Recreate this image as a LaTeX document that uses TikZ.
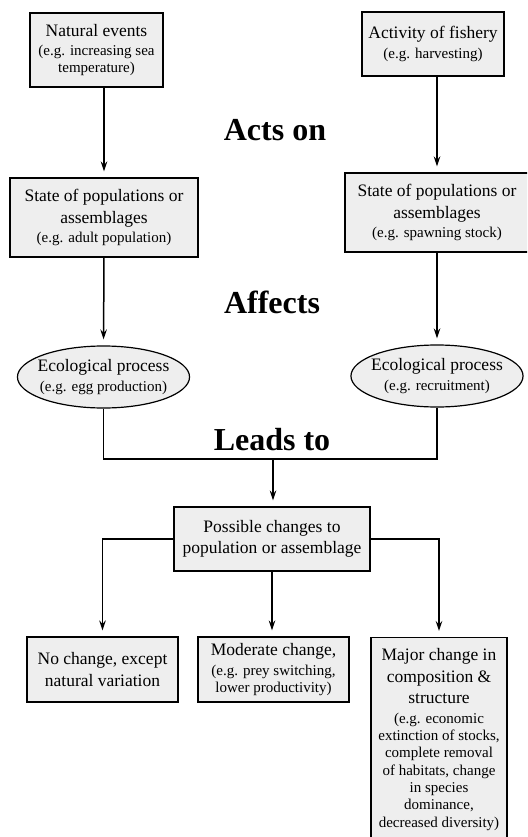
\documentclass[tikz,border=0pt]{standalone}
\usepackage{fontspec}
\setmainfont{Liberation Serif}
\usetikzlibrary{arrows.meta,shapes.geometric}
\newcommand\egf{\fontsize{15}{17.3}\selectfont}
\tikzset{
bx/.style={draw, line width=1.2pt, fill=gray!13, align=center, inner sep=0pt, font=\fontsize{17.5}{21.5}\selectfont},
proc/.style={bx, ellipse, inner xsep=-5pt},
lbl/.style={font=\bfseries\fontsize{32}{36}\selectfont},
ln/.style={line width=1.5pt},
arr/.style={ln, -{Stealth[open,length=10pt,width=6.5pt,inset=3.5pt]}, shorten >=6pt}
}

\begin{document}
\begin{tikzpicture}[x=1pt,y=-1pt]
\useasboundingbox (0,0) rectangle (527,837); \clip (0,0) rectangle (527,837);

\node[bx, minimum width=133, minimum height=74] at (96.5,50) (nat) {Natural events\\[-2pt]\egf (e.g. increasing sea\\[-4.2pt]\egf temperature)};
\node[bx, minimum width=142, minimum height=64] at (433,44) (act) {Activity of fishery\\[-2pt]\egf (e.g. harvesting)};
\node[bx, minimum width=188, minimum height=79] at (104,217.5) (sop1) {State of populations or\\assemblages\\[-2pt]\egf (e.g. adult population)};
\node[bx, minimum width=184, minimum height=79] at (437,212.5) (sop2) {State of populations or\\assemblages\\[-2pt]\egf (e.g. spawning stock)};
\node[proc, minimum height=62] at (103.5,377) (eco1) {Ecological process\\[-2pt]\egf (e.g. egg production)};
\node[proc, minimum height=62] at (437,376) (eco2) {Ecological process\\[-2pt]\egf (e.g. recruitment)};
\node[lbl] at (275,130) (acts) {Acts on}; \node[lbl] at (272,302) (aff) {Affects}; \node[lbl] at (272,440) (lead) {Leads to};
\coordinate (join) at (273,459);
\node[bx, minimum width=196, minimum height=64] at (272,539) (pos) {Possible changes to\\population or assemblage};
\node[bx, minimum width=151, minimum height=65] at (102.5,669.5) (nochg) {No change, except\\natural variation};
\node[bx, minimum width=151, minimum height=65] at (273.5,669.5) (mod) {Moderate change,\\[-2pt]\egf (e.g. prey switching,\\[-4.2pt]\egf lower productivity)};
\node[bx, minimum width=136, inner ysep=11pt, anchor=north] at (439,637) (major) {Major change in\\composition \&\\structure\\[-2pt]\egf (e.g. economic\\[-4.2pt]\egf extinction of stocks,\\[-4.2pt]\egf complete removal\\[-4.2pt]\egf of habitats, change\\[-4.2pt]\egf in species\\[-4.2pt]\egf dominance,\\[-4.2pt]\egf decreased diversity)};

\draw[arr] (nat.south -| sop1.north) -- (sop1.north);
\draw[arr] (act.south -| sop2.north) -- (sop2.north);
\draw[arr] (sop1.south) -- (eco1.north);
\draw[arr] (sop2.south -| eco2.north) -- (eco2.north);
\draw[ln] (eco1.south) |- (join) -| (eco2.south);
\draw[arr] (join) -- (pos.north -| join);
\draw[arr] (pos.west) -| (nochg.north);
\draw[arr] (pos.south) -- (pos.south |- mod.north);
\draw[arr] (pos.east) -| (major.north);
\end{tikzpicture}
\end{document}
